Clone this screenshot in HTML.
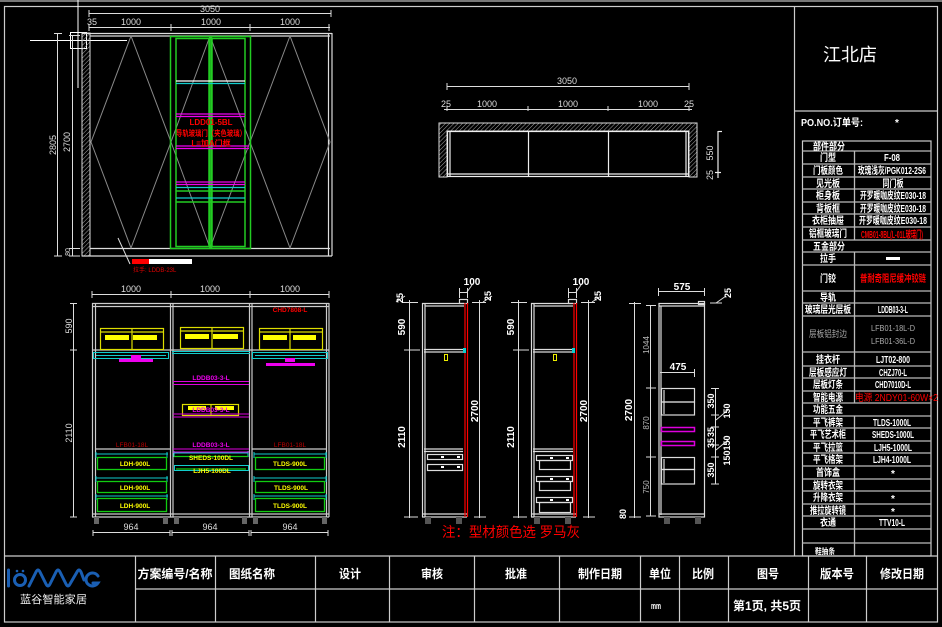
<!DOCTYPE html>
<html><head><meta charset="utf-8">
<style>
html,body{margin:0;padding:0;background:#000;width:942px;height:627px;overflow:hidden}
svg{display:block}
text{font-family:"Liberation Sans","Noto Sans CJK SC",sans-serif}
.d{fill:#ddd;font-size:9px}
.b{fill:#fff;font-size:10px;font-weight:bold}
.t{fill:#fff;font-size:10px;font-weight:bold}
</style></head>
<body>
<svg width="942" height="627" viewBox="0 0 942 627" xmlns="http://www.w3.org/2000/svg">
<defs>
<pattern id="h" width="3" height="3" patternUnits="userSpaceOnUse" patternTransform="rotate(45)"><line x1="0" y1="0" x2="0" y2="3" stroke="#aaa" stroke-width="1"/></pattern>
</defs>
<rect width="942" height="627" fill="#000"/>
<line x1="0" y1="1" x2="942" y2="1" stroke="#777" stroke-width="2"/>
<rect x="4.5" y="6.5" width="933" height="615.5" fill="none" stroke="#ccc" stroke-width="1.2"/>

<!-- ============ TOP-LEFT ELEVATION ============ -->
<g stroke="#ddd" stroke-width="1" fill="none">
  <line x1="89" y1="13.5" x2="331" y2="13.5"/>
  <line x1="89" y1="10" x2="89" y2="17"/><line x1="331" y1="10" x2="331" y2="17"/>
  <line x1="89" y1="27.5" x2="330" y2="27.5"/>
  <line x1="89" y1="24" x2="89" y2="31"/><line x1="171" y1="24" x2="171" y2="31"/><line x1="250" y1="24" x2="250" y2="31"/><line x1="329" y1="24" x2="329" y2="31"/>
  <!-- cursor -->
  <line x1="78" y1="0" x2="78" y2="88" stroke="#fff"/>
  <line x1="30" y1="40.5" x2="127" y2="40.5" stroke="#fff"/>
  <rect x="70.5" y="32.5" width="16" height="16" stroke="#fff"/>
  <!-- left dims -->
  <line x1="57.5" y1="33" x2="57.5" y2="256"/>
  <line x1="54" y1="33.5" x2="62" y2="33.5"/><line x1="54" y1="256" x2="62" y2="256"/>
  <line x1="72.5" y1="35" x2="72.5" y2="256"/>
  <line x1="69" y1="35.5" x2="80" y2="35.5"/><line x1="69" y1="248.5" x2="80" y2="248.5"/><line x1="69" y1="256" x2="80" y2="256"/>
</g>
<text class="d" x="210" y="12" text-anchor="middle">3050</text>
<text class="d" x="92" y="25" text-anchor="middle">35</text>
<text class="d" x="131" y="25" text-anchor="middle">1000</text>
<text class="d" x="211" y="25" text-anchor="middle">1000</text>
<text class="d" x="290" y="25" text-anchor="middle">1000</text>
<text class="d" transform="translate(56,145) rotate(-90)" text-anchor="middle">2805</text>
<text class="d" transform="translate(70,142) rotate(-90)" text-anchor="middle">2700</text>
<text class="d" transform="translate(70,252) rotate(-90)" text-anchor="middle" style="font-size:7px">80</text>

<rect x="82" y="33" width="8" height="223" fill="url(#h)" stroke="#ddd" stroke-width="1"/>
<g stroke="#ddd" stroke-width="1.2" fill="none">
  <line x1="82" y1="33.5" x2="332" y2="33.5"/>
  <line x1="90" y1="36" x2="330" y2="36"/>
  <line x1="90" y1="248.5" x2="330" y2="248.5"/>
  <line x1="82" y1="256" x2="332" y2="256"/>
  <line x1="328.5" y1="33" x2="328.5" y2="256"/>
  <line x1="332" y1="33" x2="332" y2="256"/>
</g>
<g stroke="#8a8a8a" stroke-width="1" fill="none">
  <polygon points="131,36 91,142 131,248 171,142"/>
  <polygon points="210,36 171,142 210,248 250,142"/>
  <polygon points="290,36 250,142 290,248 330,142"/>
  <line x1="131" y1="36" x2="131" y2="36"/>
</g>
<g stroke="#22cc22" stroke-width="1.5" fill="none">
  <rect x="170.5" y="36.5" width="80" height="212"/>
  <rect x="176" y="38.5" width="33" height="208"/>
  <rect x="212" y="38.5" width="33" height="208"/>
  <line x1="210" y1="36" x2="210" y2="248"/>
  <line x1="211.5" y1="36" x2="211.5" y2="248"/>
  <line x1="176" y1="191" x2="245" y2="191"/>
  <line x1="176" y1="202" x2="246" y2="202"/>
</g>
<g stroke-width="1.2" fill="none">
  <line x1="176" y1="81" x2="245" y2="81" stroke="#fff"/>
  <line x1="176" y1="83.5" x2="245" y2="83.5" stroke="#1cc"/>
  <line x1="176" y1="114" x2="245" y2="114" stroke="#e0e"/>
  <line x1="176" y1="116.5" x2="245" y2="116.5" stroke="#e0e"/>
  <line x1="176" y1="146" x2="249" y2="146" stroke="#e0e"/>
  <line x1="176" y1="148.5" x2="249" y2="148.5" stroke="#e0e"/>
  <line x1="176" y1="182" x2="245" y2="182" stroke="#e0e"/>
  <line x1="176" y1="184.5" x2="245" y2="184.5" stroke="#e0e"/>
  <line x1="176" y1="187.5" x2="245" y2="187.5" stroke="#1cc"/>
  <line x1="176" y1="198" x2="245" y2="198" stroke="#1cc"/>
</g>
<text x="211" y="125" fill="#f00" font-size="8" font-weight="bold" text-anchor="middle">LDD01-5BL</text>
<text x="211" y="136" fill="#f00" font-size="8" font-weight="bold" text-anchor="middle" textLength="70" lengthAdjust="spacingAndGlyphs">导轨玻璃门（夹色玻璃）</text>
<text x="211" y="146" fill="#f00" font-size="8" font-weight="bold" text-anchor="middle">L=加A门框</text>
<line x1="118" y1="238" x2="130" y2="264" stroke="#ddd" stroke-width="1"/>
<rect x="132" y="259" width="17" height="5" fill="#f00"/>
<rect x="149" y="259" width="43" height="5" fill="#fff"/>
<text x="133" y="272" fill="#d00" font-size="6">拉手: LDDB-23L</text>

<!-- ============ PLAN VIEW ============ -->
<g stroke="#ddd" stroke-width="1" fill="none">
  <line x1="447" y1="86.5" x2="689" y2="86.5"/>
  <line x1="447" y1="83" x2="447" y2="90"/><line x1="689" y1="83" x2="689" y2="90"/>
  <line x1="444" y1="109.5" x2="692" y2="109.5"/>
  <line x1="528" y1="106" x2="528" y2="111"/><line x1="608" y1="106" x2="608" y2="111"/>
  <line x1="447" y1="106" x2="447" y2="111"/><line x1="689" y1="106" x2="689" y2="111"/>
</g>
<text class="d" x="567" y="84" text-anchor="middle">3050</text>
<text class="d" x="446" y="107" text-anchor="middle">25</text>
<text class="d" x="487" y="107" text-anchor="middle">1000</text>
<text class="d" x="568" y="107" text-anchor="middle">1000</text>
<text class="d" x="648" y="107" text-anchor="middle">1000</text>
<text class="d" x="689" y="107" text-anchor="middle">25</text>
<path d="M439,177 V123 H697 V177 H689 V131 H447 V177 Z" fill="url(#h)" stroke="#ddd" stroke-width="1"/>
<g stroke="#eee" stroke-width="1.2" fill="none">
  <rect x="447.5" y="131.5" width="241" height="45"/>
  <line x1="450" y1="131" x2="450" y2="177"/>
  <line x1="686" y1="131" x2="686" y2="177"/>
  <line x1="528.5" y1="131" x2="528.5" y2="177"/>
  <line x1="608.5" y1="131" x2="608.5" y2="177"/>
  <line x1="447" y1="174" x2="689" y2="174"/>
  <line x1="718" y1="131" x2="718" y2="178"/>
  <line x1="718" y1="131.5" x2="722" y2="131.5"/>
  <line x1="715" y1="172.5" x2="721" y2="172.5"/>
</g>
<text class="d" transform="translate(713,153) rotate(-90)" text-anchor="middle">550</text>
<text class="d" transform="translate(713,175) rotate(-90)" text-anchor="middle">25</text>

<!-- ============ BOTTOM-LEFT ELEVATION ============ -->
<g stroke="#ddd" stroke-width="1" fill="none">
  <line x1="92" y1="294.5" x2="329" y2="294.5"/>
  <line x1="92" y1="291" x2="92" y2="298"/><line x1="171" y1="291" x2="171" y2="298"/><line x1="250" y1="291" x2="250" y2="298"/><line x1="329" y1="291" x2="329" y2="298"/>
  <line x1="93" y1="532.5" x2="170" y2="532.5"/><line x1="172" y1="532.5" x2="249" y2="532.5"/><line x1="251" y1="532.5" x2="328" y2="532.5"/>
  <line x1="93" y1="530" x2="93" y2="536"/><line x1="170" y1="530" x2="170" y2="536"/><line x1="172" y1="530" x2="172" y2="536"/><line x1="249" y1="530" x2="249" y2="536"/><line x1="251" y1="530" x2="251" y2="536"/><line x1="328" y1="530" x2="328" y2="536"/>
  <line x1="73.5" y1="303" x2="73.5" y2="517"/>
  <line x1="70" y1="303.5" x2="77" y2="303.5"/><line x1="70" y1="350" x2="77" y2="350"/><line x1="70" y1="517" x2="77" y2="517"/>
</g>
<text class="d" x="131" y="292" text-anchor="middle">1000</text>
<text class="d" x="210" y="292" text-anchor="middle">1000</text>
<text class="d" x="290" y="292" text-anchor="middle">1000</text>
<text class="d" x="131" y="530" text-anchor="middle">964</text>
<text class="d" x="210" y="530" text-anchor="middle">964</text>
<text class="d" x="290" y="530" text-anchor="middle">964</text>
<text class="d" transform="translate(72,326) rotate(-90)" text-anchor="middle">590</text>
<text class="d" transform="translate(72,433) rotate(-90)" text-anchor="middle">2110</text>

<g stroke="#ccc" stroke-width="1.2" fill="none">
  <line x1="92.5" y1="303" x2="92.5" y2="517"/><line x1="95.5" y1="303" x2="95.5" y2="517"/>
  <line x1="170.5" y1="303" x2="170.5" y2="517"/><line x1="173" y1="303" x2="173" y2="517"/>
  <line x1="249.5" y1="303" x2="249.5" y2="517"/><line x1="252" y1="303" x2="252" y2="517"/>
  <line x1="326.5" y1="303" x2="326.5" y2="517"/><line x1="329" y1="303" x2="329" y2="517"/>
  <line x1="92" y1="303.5" x2="329" y2="303.5"/><line x1="92" y1="306.5" x2="329" y2="306.5"/>
  <line x1="92" y1="350" x2="329" y2="350"/>
  <line x1="92" y1="514" x2="329" y2="514"/><line x1="92" y1="517" x2="329" y2="517"/>
  <line x1="95" y1="449" x2="170" y2="449"/><line x1="252" y1="449" x2="327" y2="449"/>
</g>
<g fill="#666">
  <rect x="94" y="517" width="5" height="7"/><rect x="163" y="517" width="5" height="7"/>
  <rect x="174" y="517" width="5" height="7"/><rect x="242" y="517" width="5" height="7"/>
  <rect x="253" y="517" width="5" height="7"/><rect x="322" y="517" width="5" height="7"/>
</g>
<!-- yellow boxes -->
<g stroke="#dd0" stroke-width="1.2" fill="none">
  <rect x="100.5" y="328.5" width="63" height="21"/><line x1="132" y1="328" x2="132" y2="349"/><line x1="100" y1="332" x2="163" y2="332"/>
  <rect x="180.5" y="327.5" width="63" height="21"/><line x1="212" y1="327" x2="212" y2="348"/><line x1="180" y1="331" x2="243" y2="331"/>
  <rect x="259.5" y="328.5" width="63" height="21"/><line x1="290" y1="328" x2="290" y2="349"/><line x1="259" y1="332" x2="322" y2="332"/>
  <rect x="182.5" y="404.5" width="56" height="11"/><line x1="211" y1="404" x2="211" y2="415"/>
</g>
<g fill="#ff0">
  <rect x="105" y="335" width="24" height="5"/><rect x="133" y="335" width="24" height="5"/>
  <rect x="185" y="334" width="24" height="5"/><rect x="213" y="334" width="25" height="5"/>
  <rect x="263" y="335" width="24" height="5"/><rect x="293" y="335" width="23" height="5"/>
  <rect x="188" y="406" width="18" height="4"/><rect x="215" y="406" width="19" height="4"/>
</g>
<text x="290" y="312" fill="#f00" font-size="6.5" font-weight="bold" text-anchor="middle">CHD7808-L</text>
<!-- cyan rails -->
<g stroke="#1cc" stroke-width="1" fill="none">
  <rect x="93.5" y="352.5" width="75" height="6"/><line x1="96" y1="355.5" x2="166" y2="355.5"/>
  <rect x="252.5" y="352.5" width="75" height="6"/><line x1="255" y1="355.5" x2="325" y2="355.5"/>
  <line x1="172" y1="351.5" x2="250" y2="351.5"/><line x1="172" y1="353.5" x2="250" y2="353.5"/>
  <line x1="96" y1="454" x2="168" y2="454"/><line x1="96" y1="478" x2="168" y2="478"/><line x1="96" y1="496" x2="168" y2="496"/>
  <line x1="254" y1="454" x2="327" y2="454"/><line x1="254" y1="478" x2="327" y2="478"/><line x1="254" y1="496" x2="327" y2="496"/>
  <line x1="174" y1="453" x2="248" y2="453"/>
  <rect x="174.5" y="465.5" width="74" height="5"/>
  <line x1="96" y1="452" x2="96" y2="458"/><line x1="167" y1="452" x2="167" y2="458"/>
  <line x1="96" y1="476" x2="96" y2="482"/><line x1="167" y1="476" x2="167" y2="482"/>
  <line x1="96" y1="494" x2="96" y2="500"/><line x1="167" y1="494" x2="167" y2="500"/>
  <line x1="254" y1="452" x2="254" y2="458"/><line x1="326" y1="452" x2="326" y2="458"/>
  <line x1="254" y1="476" x2="254" y2="482"/><line x1="326" y1="476" x2="326" y2="482"/>
  <line x1="254" y1="494" x2="254" y2="500"/><line x1="326" y1="494" x2="326" y2="500"/>
  <line x1="174" y1="451" x2="174" y2="457"/><line x1="248" y1="451" x2="248" y2="457"/>
</g>
<g fill="#e0e">
  <rect x="131" y="355" width="10" height="4"/><rect x="119" y="359" width="34" height="3"/>
  <rect x="285" y="358" width="10" height="4"/><rect x="266" y="363" width="49" height="3"/>
</g>
<g stroke="#d0d" stroke-width="1" fill="none">
  <line x1="173" y1="381.5" x2="249" y2="381.5"/><line x1="173" y1="384.5" x2="249" y2="384.5"/>
  <line x1="173" y1="414" x2="249" y2="414"/><line x1="173" y1="417" x2="249" y2="417"/>
  <line x1="173" y1="449" x2="249" y2="449"/><line x1="173" y1="452" x2="249" y2="452"/>
</g>
<text x="211" y="380" fill="#e0e" font-size="6.5" font-weight="bold" text-anchor="middle">LDDB03-3-L</text>
<text x="211" y="412" fill="#e0e" font-size="6.5" font-weight="bold" text-anchor="middle">LDDB03-3-L</text>
<text x="211" y="447" fill="#e0e" font-size="6.5" font-weight="bold" text-anchor="middle">LDDB03-3-L</text>
<text x="132" y="447" fill="#b00" font-size="6.5" text-anchor="middle">LFB01-18L</text>
<text x="290" y="447" fill="#b00" font-size="6.5" text-anchor="middle">LFB01-18L</text>
<g stroke="#1c1" stroke-width="1.3" fill="none">
  <rect x="97.5" y="457.5" width="69" height="12"/>
  <rect x="97.5" y="481.5" width="69" height="11"/>
  <rect x="97.5" y="498.5" width="69" height="13"/>
  <rect x="255.5" y="457.5" width="69" height="12"/>
  <rect x="255.5" y="481.5" width="69" height="11"/>
  <rect x="255.5" y="498.5" width="69" height="13"/>
  <line x1="174" y1="456.5" x2="248" y2="456.5"/>
  <line x1="176" y1="469" x2="246" y2="469"/>
</g>
<g fill="#ff0" font-size="6.5" font-weight="bold" text-anchor="middle">
  <text x="135" y="466">LDH-900L</text>
  <text x="135" y="490">LDH-900L</text>
  <text x="135" y="508">LDH-900L</text>
  <text x="290" y="466">TLDS-900L</text>
  <text x="291" y="490">TLDS-900L</text>
  <text x="290" y="508">TLDS-900L</text>
  <text x="211" y="460">SHEDS-100DL</text>
  <text x="212" y="473">LJH5-100DL</text>
</g>

<!-- ============ SECTION A ============ -->
<g stroke="#ddd" stroke-width="1" fill="none">
  <line x1="459.5" y1="288" x2="459.5" y2="298"/><line x1="467.5" y1="288" x2="467.5" y2="298"/>
  <line x1="459" y1="292.5" x2="468" y2="292.5"/><line x1="467" y1="292" x2="472" y2="285"/>
  <line x1="409.5" y1="300" x2="409.5" y2="518"/>
  <line x1="402" y1="302.5" x2="418" y2="302.5"/><line x1="404" y1="350" x2="420" y2="350"/><line x1="404" y1="517" x2="418" y2="517"/>
  <line x1="479.5" y1="300" x2="479.5" y2="518"/>
  <line x1="472" y1="302.5" x2="486" y2="302.5"/><line x1="474" y1="517" x2="486" y2="517"/>
  <line x1="396" y1="302" x2="405" y2="296"/><line x1="483" y1="302" x2="492" y2="296"/>
  <!-- B -->
  <line x1="568.5" y1="288" x2="568.5" y2="298"/><line x1="576.5" y1="288" x2="576.5" y2="298"/>
  <line x1="568" y1="292.5" x2="577" y2="292.5"/><line x1="576" y1="292" x2="581" y2="285"/>
  <line x1="518.5" y1="300" x2="518.5" y2="518"/>
  <line x1="511" y1="302.5" x2="527" y2="302.5"/><line x1="513" y1="350" x2="529" y2="350"/><line x1="513" y1="517" x2="527" y2="517"/>
  <line x1="588.5" y1="300" x2="588.5" y2="518"/>
  <line x1="581" y1="302.5" x2="595" y2="302.5"/><line x1="583" y1="517" x2="595" y2="517"/>
  <line x1="592" y1="302" x2="601" y2="296"/>
</g>
<g class="b">
  <text x="472" y="285" class="b" text-anchor="middle">100</text>
  <text x="581" y="285" class="b" text-anchor="middle">100</text>
  <text class="b" transform="translate(403,298) rotate(-90)" text-anchor="middle" style="font-size:9px">25</text>
  <text class="b" transform="translate(491,296) rotate(-90)" text-anchor="middle" style="font-size:9px">25</text>
  <text class="b" transform="translate(601,296) rotate(-90)" text-anchor="middle" style="font-size:9px">25</text>
  <text class="b" transform="translate(405,327) rotate(-90)" text-anchor="middle">590</text>
  <text class="b" transform="translate(405,437) rotate(-90)" text-anchor="middle">2110</text>
  <text class="b" transform="translate(478,411) rotate(-90)" text-anchor="middle">2700</text>
  <text class="b" transform="translate(514,327) rotate(-90)" text-anchor="middle">590</text>
  <text class="b" transform="translate(514,437) rotate(-90)" text-anchor="middle">2110</text>
  <text class="b" transform="translate(587,411) rotate(-90)" text-anchor="middle">2700</text>
</g>
<g stroke="#ddd" stroke-width="1.2" fill="none">
  <line x1="422.5" y1="303" x2="422.5" y2="517"/><line x1="425" y1="303" x2="425" y2="517"/>
  <line x1="422" y1="303.5" x2="464" y2="303.5"/><line x1="425" y1="306" x2="464" y2="306"/>
  <rect x="459.5" y="299.5" width="8" height="4"/>
  <line x1="424" y1="349.5" x2="463" y2="349.5"/><line x1="424" y1="352" x2="463" y2="352"/>
  <line x1="424" y1="449" x2="463" y2="449"/><line x1="424" y1="451.5" x2="463" y2="451.5"/>
  <rect x="427.5" y="454.5" width="35" height="5"/>
  <rect x="427.5" y="464.5" width="35" height="6"/>
  <line x1="422" y1="514" x2="467" y2="514"/><line x1="422" y1="517" x2="467" y2="517"/>
  <!-- B -->
  <line x1="531.5" y1="303" x2="531.5" y2="517"/><line x1="534" y1="303" x2="534" y2="517"/>
  <line x1="531" y1="303.5" x2="573" y2="303.5"/><line x1="534" y1="306" x2="573" y2="306"/>
  <rect x="568.5" y="299.5" width="8" height="4"/>
  <line x1="533" y1="349.5" x2="572" y2="349.5"/><line x1="533" y1="352" x2="572" y2="352"/>
  <line x1="533" y1="449" x2="573" y2="449"/><line x1="533" y1="451.5" x2="573" y2="451.5"/>
  <rect x="536.5" y="455.5" width="36" height="5"/><rect x="539.5" y="460.5" width="31" height="9"/>
  <rect x="536.5" y="476.5" width="36" height="5"/><rect x="539.5" y="481.5" width="31" height="9"/>
  <rect x="536.5" y="497.5" width="36" height="5"/><rect x="539.5" y="502.5" width="31" height="10"/>
  <line x1="531" y1="514" x2="576" y2="514"/><line x1="531" y1="517" x2="576" y2="517"/>
</g>
<g fill="#fff">
  <rect x="441" y="456" width="3" height="2"/><rect x="457" y="456" width="3" height="2"/>
  <rect x="441" y="466" width="3" height="2"/><rect x="457" y="466" width="3" height="2"/>
  <rect x="550" y="457" width="3" height="2"/><rect x="566" y="457" width="3" height="2"/>
  <rect x="550" y="478" width="3" height="2"/><rect x="566" y="478" width="3" height="2"/>
  <rect x="550" y="499" width="3" height="2"/><rect x="566" y="499" width="3" height="2"/>
</g>
<g stroke="#f00" stroke-width="1.2">
  <line x1="465" y1="303" x2="465" y2="517"/><line x1="467.5" y1="303" x2="467.5" y2="517"/>
  <line x1="574" y1="303" x2="574" y2="517"/><line x1="576.5" y1="303" x2="576.5" y2="517"/>
</g>
<rect x="463" y="348" width="3" height="5" fill="#1cc"/>
<rect x="572" y="348" width="3" height="5" fill="#1cc"/>
<rect x="444.5" y="354.5" width="3" height="6" fill="none" stroke="#ee0"/>
<rect x="553.5" y="354.5" width="3" height="6" fill="none" stroke="#ee0"/>
<g fill="#555">
  <rect x="425" y="517" width="6" height="7"/><rect x="456" y="517" width="6" height="7"/>
  <rect x="534" y="517" width="6" height="7"/><rect x="565" y="517" width="6" height="7"/>
</g>
<text x="442" y="537" fill="#f00" font-size="14" textLength="138" lengthAdjust="spacingAndGlyphs">注：型材颜色选 罗马灰</text>

<!-- ============ SECTION C ============ -->
<g stroke="#ddd" stroke-width="1" fill="none">
  <line x1="658" y1="291.5" x2="704" y2="291.5"/>
  <line x1="658.5" y1="288" x2="658.5" y2="296"/><line x1="704.5" y1="288" x2="704.5" y2="296"/>
  <line x1="710" y1="303" x2="722" y2="303"/><line x1="716" y1="303" x2="726" y2="296"/>
  <line x1="634.5" y1="302" x2="634.5" y2="518"/>
  <line x1="629" y1="303.5" x2="641" y2="303.5"/><line x1="629" y1="517" x2="641" y2="517"/>
  <line x1="650.5" y1="305" x2="650.5" y2="516"/>
  <line x1="646" y1="305.5" x2="656" y2="305.5"/><line x1="646" y1="388" x2="656" y2="388"/><line x1="646" y1="457" x2="656" y2="457"/><line x1="646" y1="516" x2="656" y2="516"/>
  <line x1="660" y1="372.5" x2="694" y2="372.5"/><line x1="694.5" y1="369" x2="694.5" y2="377"/>
  <line x1="715.5" y1="388" x2="715.5" y2="484"/>
  <line x1="711" y1="388.5" x2="719" y2="388.5"/><line x1="711" y1="415" x2="719" y2="415"/><line x1="711" y1="427" x2="719" y2="427"/><line x1="711" y1="445" x2="719" y2="445"/><line x1="711" y1="457" x2="719" y2="457"/><line x1="711" y1="484" x2="719" y2="484"/>
  <line x1="716" y1="420" x2="728" y2="410"/><line x1="716" y1="450" x2="728" y2="440"/>
</g>
<g stroke="#ddd" stroke-width="1.2" fill="none">
  <rect x="659" y="303.5" width="45.5" height="213.5"/>
  <line x1="661" y1="306" x2="661" y2="515"/>
  <line x1="659" y1="306" x2="704" y2="306"/>
  <rect x="698.5" y="301.5" width="6" height="3"/>
  <line x1="659" y1="514" x2="704" y2="514"/>
  <rect x="661.5" y="388.5" width="33" height="13.5"/><rect x="661.5" y="402" width="33" height="13"/>
  <line x1="664" y1="390" x2="664" y2="414"/>
  <rect x="661.5" y="457.5" width="33" height="12"/><rect x="661.5" y="469.5" width="33" height="14.5"/>
  <line x1="664" y1="459" x2="664" y2="483"/>
</g>
<g stroke="#d0d" stroke-width="1.5" fill="none">
  <rect x="661.5" y="427.5" width="33" height="4"/>
  <rect x="661.5" y="441.5" width="33" height="4"/>
</g>
<g fill="#555"><rect x="664" y="517" width="6" height="7"/><rect x="695" y="517" width="6" height="7"/></g>
<text class="b" x="682" y="290" text-anchor="middle">575</text>
<text class="b" x="678" y="370" text-anchor="middle">475</text>
<text class="b" transform="translate(731,293) rotate(-90)" text-anchor="middle" style="font-size:9px">25</text>
<text class="b" transform="translate(632,410) rotate(-90)" text-anchor="middle">2700</text>
<text class="b" transform="translate(626,514) rotate(-90)" text-anchor="middle" style="font-size:9px">80</text>
<text transform="translate(649,345) rotate(-90)" text-anchor="middle" fill="#bbb" font-size="8">1044</text>
<text transform="translate(649,423) rotate(-90)" text-anchor="middle" fill="#bbb" font-size="8">870</text>
<text transform="translate(649,487) rotate(-90)" text-anchor="middle" fill="#bbb" font-size="8">750</text>
<g class="b" style="font-size:9px" text-anchor="middle">
  <text transform="translate(714,401) rotate(-90)">350</text>
  <text transform="translate(730,411) rotate(-90)">150</text>
  <text transform="translate(714,432) rotate(-90)">35</text>
  <text transform="translate(714,443) rotate(-90)">35</text>
  <text transform="translate(730,443) rotate(-90)">150</text>
  <text transform="translate(730,458) rotate(-90)">150</text>
  <text transform="translate(714,470) rotate(-90)">350</text>
</g>

<!-- ============ RIGHT PANEL ============ -->
<g stroke="#ccc" stroke-width="1.2" fill="none">
  <line x1="794.5" y1="6" x2="794.5" y2="556"/>
  <line x1="794" y1="111" x2="938" y2="111"/>
  <rect x="802.5" y="141" width="128.5" height="415"/>
</g>
<text x="823" y="61" fill="#fff" font-size="18" textLength="54" lengthAdjust="spacingAndGlyphs">江北店</text>
<text x="801" y="126" fill="#fff" font-size="10" font-weight="bold" textLength="62" lengthAdjust="spacingAndGlyphs">PO.NO.订单号:</text>
<text x="897" y="126" fill="#fff" font-size="10" font-weight="bold" text-anchor="middle">*</text>

<g stroke="#bbb" stroke-width="1.3">
  <line x1="802" y1="151" x2="931" y2="151"/><line x1="802" y1="164" x2="931" y2="164"/><line x1="802" y1="177" x2="931" y2="177"/>
  <line x1="802" y1="189" x2="931" y2="189"/><line x1="802" y1="202" x2="931" y2="202"/><line x1="802" y1="214" x2="931" y2="214"/>
  <line x1="802" y1="227" x2="931" y2="227"/><line x1="802" y1="240" x2="931" y2="240"/><line x1="802" y1="252" x2="931" y2="252"/>
  <line x1="802" y1="265" x2="931" y2="265"/><line x1="802" y1="291" x2="931" y2="291"/><line x1="802" y1="303" x2="931" y2="303"/>
  <line x1="802" y1="316" x2="931" y2="316"/><line x1="802" y1="352" x2="931" y2="352"/><line x1="802" y1="366" x2="931" y2="366"/>
  <line x1="802" y1="378" x2="931" y2="378"/><line x1="802" y1="391" x2="931" y2="391"/><line x1="802" y1="403" x2="931" y2="403"/>
  <line x1="802" y1="416" x2="931" y2="416"/><line x1="802" y1="428" x2="931" y2="428"/><line x1="802" y1="441" x2="931" y2="441"/>
  <line x1="802" y1="453" x2="931" y2="453"/><line x1="802" y1="466" x2="931" y2="466"/><line x1="802" y1="479" x2="931" y2="479"/>
  <line x1="802" y1="491" x2="931" y2="491"/><line x1="802" y1="504" x2="931" y2="504"/><line x1="802" y1="516" x2="931" y2="516"/>
  <line x1="802" y1="529" x2="931" y2="529"/><line x1="802" y1="543" x2="931" y2="543"/>
  <line x1="854.5" y1="151" x2="854.5" y2="240"/>
  <line x1="854.5" y1="252" x2="854.5" y2="403"/>
  <line x1="854.5" y1="416" x2="854.5" y2="556"/>
</g>
<g class="t" text-anchor="middle">
  <text x="813" y="150" text-anchor="start" textLength="32" lengthAdjust="spacingAndGlyphs">部件部分</text>
  <text x="828" y="161" textLength="16" lengthAdjust="spacingAndGlyphs">门型</text>
  <text x="828" y="174" textLength="30" lengthAdjust="spacingAndGlyphs">门板颜色</text>
  <text x="828" y="187" textLength="24" lengthAdjust="spacingAndGlyphs">见光板</text>
  <text x="828" y="199" textLength="24" lengthAdjust="spacingAndGlyphs">柜身板</text>
  <text x="828" y="212" textLength="24" lengthAdjust="spacingAndGlyphs">背板框</text>
  <text x="828" y="224" textLength="32" lengthAdjust="spacingAndGlyphs">衣柜抽屉</text>
  <text x="828" y="237" textLength="38" lengthAdjust="spacingAndGlyphs">铝框玻璃门</text>
  <text x="813" y="250" text-anchor="start" textLength="32" lengthAdjust="spacingAndGlyphs">五金部分</text>
  <text x="828" y="262" textLength="16" lengthAdjust="spacingAndGlyphs">拉手</text>
  <text x="828" y="282" textLength="16" lengthAdjust="spacingAndGlyphs">门铰</text>
  <text x="828" y="301" textLength="16" lengthAdjust="spacingAndGlyphs">导轨</text>
  <text x="828" y="313" textLength="46" lengthAdjust="spacingAndGlyphs">玻璃层光层板</text>
  <text x="828" y="363" textLength="24" lengthAdjust="spacingAndGlyphs">挂衣杆</text>
  <text x="828" y="376" textLength="38" lengthAdjust="spacingAndGlyphs">层板感应灯</text>
  <text x="828" y="388" textLength="30" lengthAdjust="spacingAndGlyphs">层板灯条</text>
  <text x="828" y="401" textLength="30" lengthAdjust="spacingAndGlyphs">智能电源</text>
  <text x="813" y="413" text-anchor="start" textLength="30" lengthAdjust="spacingAndGlyphs">功能五金</text>
  <text x="828" y="426" textLength="30" lengthAdjust="spacingAndGlyphs">平飞裤架</text>
  <text x="828" y="438" textLength="36" lengthAdjust="spacingAndGlyphs">平飞艺术柜</text>
  <text x="828" y="451" textLength="30" lengthAdjust="spacingAndGlyphs">平飞拉篮</text>
  <text x="828" y="463" textLength="30" lengthAdjust="spacingAndGlyphs">平飞格架</text>
  <text x="828" y="476" textLength="24" lengthAdjust="spacingAndGlyphs">首饰盒</text>
  <text x="828" y="489" textLength="30" lengthAdjust="spacingAndGlyphs">旋转衣架</text>
  <text x="828" y="501" textLength="30" lengthAdjust="spacingAndGlyphs">升降衣架</text>
  <text x="828" y="514" textLength="36" lengthAdjust="spacingAndGlyphs">推拉旋转镜</text>
  <text x="828" y="526" textLength="16" lengthAdjust="spacingAndGlyphs">衣通</text>
  <text x="815" y="554" text-anchor="start" textLength="20" lengthAdjust="spacingAndGlyphs" style="font-size:8px">鞋抽条</text>

  <text x="892" y="161" textLength="16" lengthAdjust="spacingAndGlyphs">F-08</text>
  <text x="892" y="174" textLength="68" lengthAdjust="spacingAndGlyphs">玫瑰浅灰/PGK012-2S6</text>
  <text x="893" y="187" textLength="21" lengthAdjust="spacingAndGlyphs">同门板</text>
  <text x="893" y="199" textLength="66" lengthAdjust="spacingAndGlyphs">开罗暖咖皮纹E030-18</text>
  <text x="893" y="212" textLength="66" lengthAdjust="spacingAndGlyphs">开罗暖咖皮纹E030-18</text>
  <text x="893" y="224" textLength="68" lengthAdjust="spacingAndGlyphs">开罗暖咖皮纹E030-18</text>
  <text x="892" y="238" fill="#f00" style="fill:#f00" textLength="62" lengthAdjust="spacingAndGlyphs">CMB01-8BL(L-01L玻璃门)</text>
  <text x="893" y="282" style="fill:#f00" textLength="66" lengthAdjust="spacingAndGlyphs">普耐奇阻尼缓冲铰链</text>
  <text x="893" y="313" textLength="30" lengthAdjust="spacingAndGlyphs">LDDB03-3-L</text>
  <text x="893" y="363" textLength="34" lengthAdjust="spacingAndGlyphs">LJT02-800</text>
  <text x="893" y="376" textLength="28" lengthAdjust="spacingAndGlyphs">CHZJ70-L</text>
  <text x="893" y="388" textLength="36" lengthAdjust="spacingAndGlyphs">CHD7010D-L</text>
  <text x="892" y="426" textLength="38" lengthAdjust="spacingAndGlyphs">TLDS-1000L</text>
  <text x="893" y="438" textLength="42" lengthAdjust="spacingAndGlyphs">SHEDS-1000L</text>
  <text x="893" y="451" textLength="38" lengthAdjust="spacingAndGlyphs">LJH5-1000L</text>
  <text x="892" y="463" textLength="38" lengthAdjust="spacingAndGlyphs">LJH4-1000L</text>
  <text x="893" y="477">*</text>
  <text x="893" y="502">*</text>
  <text x="893" y="515">*</text>
  <text x="892" y="526" textLength="26" lengthAdjust="spacingAndGlyphs">TTV10-L</text>
</g>
<rect x="886" y="257" width="14" height="3" fill="#fff"/>
<text x="828" y="337" text-anchor="middle" fill="#aaa" font-size="9" textLength="38" lengthAdjust="spacingAndGlyphs">层板铝封边</text>
<text x="893" y="331" text-anchor="middle" fill="#aaa" font-size="8.5" textLength="44" lengthAdjust="spacingAndGlyphs">LFB01-18L-D</text>
<text x="893" y="344" text-anchor="middle" fill="#aaa" font-size="8.5" textLength="44" lengthAdjust="spacingAndGlyphs">LFB01-36L-D</text>
<text x="855" y="401" fill="#f00" font-size="10" textLength="83" lengthAdjust="spacingAndGlyphs">电源 2NDY01-60W×2</text>

<!-- ============ TITLE BAR ============ -->
<g stroke="#ccc" stroke-width="1.2" fill="none">
  <line x1="4" y1="556" x2="938" y2="556"/>
  <line x1="135" y1="589" x2="938" y2="589"/>
  <line x1="135.5" y1="556" x2="135.5" y2="622"/>
  <line x1="215.5" y1="556" x2="215.5" y2="622"/>
  <line x1="315.5" y1="556" x2="315.5" y2="622"/>
  <line x1="389.5" y1="556" x2="389.5" y2="622"/>
  <line x1="474.5" y1="556" x2="474.5" y2="622"/>
  <line x1="559.5" y1="556" x2="559.5" y2="622"/>
  <line x1="640.5" y1="556" x2="640.5" y2="622"/>
  <line x1="679.5" y1="556" x2="679.5" y2="622"/>
  <line x1="728.5" y1="556" x2="728.5" y2="622"/>
  <line x1="808.5" y1="556" x2="808.5" y2="622"/>
  <line x1="866.5" y1="556" x2="866.5" y2="622"/>
</g>
<g fill="#fff" font-size="12" font-weight="bold" text-anchor="middle">
  <text x="175" y="578" textLength="75" lengthAdjust="spacingAndGlyphs">方案编号/名称</text>
  <text x="252" y="578" textLength="46" lengthAdjust="spacingAndGlyphs">图纸名称</text>
  <text x="350" y="578" textLength="22" lengthAdjust="spacingAndGlyphs">设计</text>
  <text x="432" y="578" textLength="22" lengthAdjust="spacingAndGlyphs">审核</text>
  <text x="516" y="578" textLength="22" lengthAdjust="spacingAndGlyphs">批准</text>
  <text x="600" y="578" textLength="44" lengthAdjust="spacingAndGlyphs">制作日期</text>
  <text x="660" y="578" textLength="22" lengthAdjust="spacingAndGlyphs">单位</text>
  <text x="703" y="578" textLength="22" lengthAdjust="spacingAndGlyphs">比例</text>
  <text x="768" y="578" textLength="22" lengthAdjust="spacingAndGlyphs">图号</text>
  <text x="837" y="578" textLength="34" lengthAdjust="spacingAndGlyphs">版本号</text>
  <text x="902" y="578" textLength="44" lengthAdjust="spacingAndGlyphs">修改日期</text>
  <text x="656" y="609" style="font-size:9px" textLength="10" lengthAdjust="spacingAndGlyphs">mm</text>
  <text x="767" y="610" textLength="68" lengthAdjust="spacingAndGlyphs">第1页, 共5页</text>
</g>
<!-- logo -->
<g stroke="#1a5fb4" stroke-width="3" fill="none" stroke-linecap="round">
  <line x1="8.5" y1="570" x2="8.5" y2="586"/>
  <circle cx="20" cy="580" r="5.5"/>
  <path d="M29,586 L36,572 Q38,568 40,572 L46,584 Q48,588 50,584 L56,572 Q58,568 60,572 L66,584 Q68,588 70,584 L77,572 Q79,568 81,572 L84,580"/>
  <path d="M98,576 A6.5,6.5 0 1 0 98,583 L93,583"/>
</g>
<circle cx="17" cy="571" r="1.3" fill="#1a5fb4"/><circle cx="23" cy="571" r="1.3" fill="#1a5fb4"/>
<text x="20" y="603" fill="#eee" font-size="11" textLength="67" lengthAdjust="spacingAndGlyphs">蓝谷智能家居</text>
</svg>
</body></html>
